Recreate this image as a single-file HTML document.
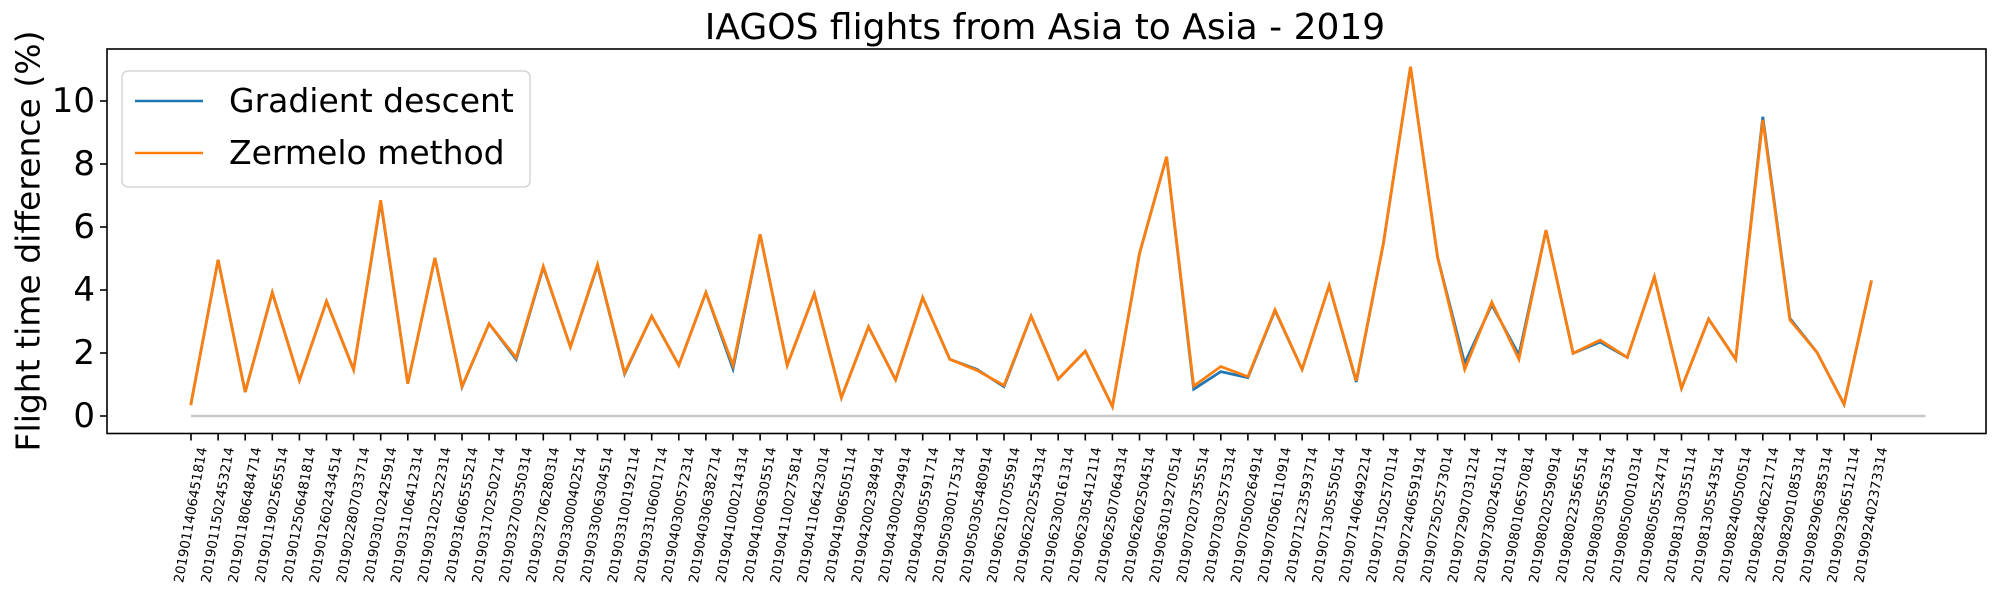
<!DOCTYPE html>
<html>
<head>
<meta charset="utf-8">
<style>
  html, body { margin: 0; padding: 0; background: #ffffff; }
  svg { display: block; font-family: "DejaVu Sans", "Liberation Sans", sans-serif; }
</style>
</head>
<body>
<svg id="chart" width="2000" height="600" viewBox="0 0 2000 600" xmlns="http://www.w3.org/2000/svg">
  <rect x="0" y="0" width="2000" height="600" fill="#ffffff"/>
  <text x="1045" y="39" font-size="36" text-anchor="middle" fill="#000">IAGOS flights from Asia to Asia - 2019</text>
  <text transform="translate(28,241) rotate(-90)" font-size="33" text-anchor="middle" dominant-baseline="central" fill="#000">Flight time difference (%)</text>
  <g id="plot"></g>
  <rect x="107" y="49" width="1879" height="384.5" fill="none" stroke="#000" stroke-width="1.6"/>
  <g>
    <rect x="122" y="71" width="408" height="116" rx="6" ry="6" fill="#ffffff" fill-opacity="0.8" stroke="#d5d5d5" stroke-width="1.5"/>
    <g>
      <line x1="135" y1="101" x2="203" y2="101" stroke="#1f77b4" stroke-width="2.5"/>
      <text x="229" y="112" font-size="33" fill="#000">Gradient descent</text>
    </g>
    <g>
      <line x1="135" y1="153" x2="203" y2="153" stroke="#ff7f0e" stroke-width="2.5"/>
      <text x="229" y="164" font-size="33" fill="#000">Zermelo method</text>
    </g>
  </g>
</svg>
<script>
const categories = ["2019011406451814","2019011502453214","2019011806484714","2019011902565514","2019012506481814","2019012602434514","2019022807033714","2019030102425914","2019031106412314","2019031202522314","2019031606555214","2019031702502714","2019032700350314","2019032706280314","2019033000402514","2019033006304514","2019033100192114","2019033106001714","2019040300572314","2019040306382714","2019041000214314","2019041006305514","2019041100275814","2019041106423014","2019041906505114","2019042002384914","2019043000294914","2019043005591714","2019050300175314","2019050305480914","2019062107055914","2019062202554314","2019062300161314","2019062305412114","2019062507064314","2019062602504514","2019063019270514","2019070207355514","2019070302575314","2019070500264914","2019070506110914","2019071223593714","2019071305550514","2019071406492214","2019071502570114","2019072406591914","2019072502573014","2019072907031214","2019073002450114","2019080106570814","2019080202590914","2019080223565514","2019080305563514","2019080500010314","2019080505524714","2019081300355114","2019081305543514","2019082400500514","2019082406221714","2019082901085314","2019082906385314","2019092306512114","2019092402373314"];
const gradientValues = [0.39,4.96,0.76,3.92,1.13,3.64,1.47,6.80,1.03,5.02,0.92,2.93,1.80,4.72,2.19,4.78,1.34,3.17,1.61,3.92,1.50,5.77,1.61,3.88,0.58,2.83,1.15,3.76,1.80,1.48,0.93,3.17,1.17,2.06,0.30,5.16,8.23,0.85,1.41,1.22,3.35,1.48,4.14,1.08,5.48,11.09,5.04,1.67,3.53,1.94,5.90,1.99,2.35,1.86,4.42,0.88,3.08,1.80,9.50,3.10,2.02,0.37,4.26];
const zermeloValues = [0.39,4.96,0.76,3.92,1.13,3.64,1.47,6.85,1.03,5.02,0.94,2.93,1.85,4.75,2.19,4.81,1.37,3.17,1.61,3.92,1.61,5.77,1.61,3.88,0.58,2.83,1.15,3.76,1.80,1.45,0.97,3.17,1.17,2.06,0.30,5.16,8.23,0.95,1.57,1.25,3.37,1.48,4.14,1.12,5.48,11.09,5.04,1.48,3.61,1.80,5.90,1.99,2.41,1.86,4.42,0.88,3.08,1.80,9.40,3.05,2.02,0.37,4.26];
const yTicks = [0, 2, 4, 6, 8, 10];
const zeroLineRange = [0, 64];

const NS = "http://www.w3.org/2000/svg";
const plot = document.getElementById('plot');
const X0 = 191, DX = 27.1;
const Y0 = 416, DY = 31.5;
function xScale(i) { return X0 + i * DX; }
function yScale(v) { return Y0 - v * DY; }
function mk(tag, attrs) {
  const e = document.createElementNS(NS, tag);
  for (const k in attrs) e.setAttribute(k, attrs[k]);
  return e;
}

yTicks.forEach(t => {
  const y = yScale(t);
  const tk = mk('line', {x1: 107, x2: 100, y1: y, y2: y, stroke: '#000', 'stroke-width': 1.6});
  
  
  plot.appendChild(tk);
  const lb = mk('text', {x: 95, y: y, 'font-size': 34, 'text-anchor': 'end', 'dominant-baseline': 'central', fill: '#000'});
  lb.textContent = String(t);
  
  
  plot.appendChild(lb);
});

categories.forEach((c, i) => {
  const x = xScale(i);
  const tk = mk('line', {x1: x, x2: x, y1: 433.5, y2: 440.5, stroke: '#000', 'stroke-width': 1.6});
  
  
  plot.appendChild(tk);
  const lb = mk('text', {x: x, y: 515, 'font-size': 13.5, 'text-anchor': 'middle', 'dominant-baseline': 'central', fill: '#000', transform: 'rotate(-80 ' + x + ' 515)'});
  lb.textContent = c;
  
  
  plot.appendChild(lb);
});

const zl = mk('line', {x1: xScale(zeroLineRange[0]), x2: xScale(zeroLineRange[1]), y1: yScale(0), y2: yScale(0), stroke: '#c8c8c8', 'stroke-width': 2.5});


plot.appendChild(zl);

function series(vals, color, name) {
  const pts = vals.map((v, i) => xScale(i).toFixed(2) + ',' + yScale(v).toFixed(2)).join(' ');
  const pl = mk('polyline', {points: pts, fill: 'none', stroke: color, 'stroke-width': 2.8, 'stroke-linejoin': 'miter', 'stroke-linecap': 'square'});
  
  
  plot.appendChild(pl);
}
series(gradientValues, '#1f77b4', 'gradient-descent-line');
series(zermeloValues, '#ff7f0e', 'zermelo-method-line');
</script>
</body>
</html>
